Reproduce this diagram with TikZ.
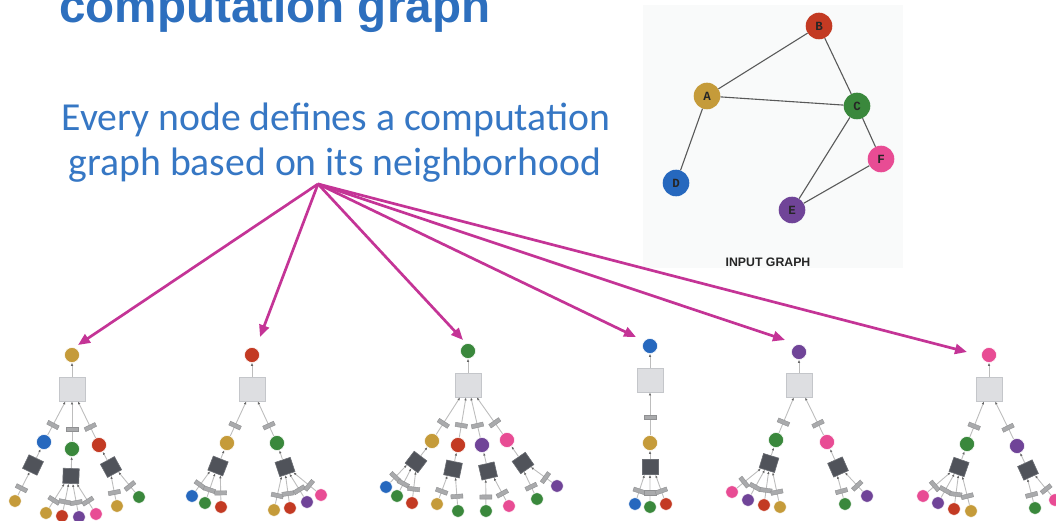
\documentclass[tikz,border=0pt]{standalone}
\usepackage{fontspec}
\setmainfont{Liberation Sans}
\newfontfamily\subfont{Carlito}
\newfontfamily\labelfont{Liberation Mono}
\usetikzlibrary{arrows.meta,calc}

% palette
\definecolor{titleblue}{HTML}{2D6FBE}
\definecolor{subblue}{HTML}{3677C4}
\definecolor{flowpink}{HTML}{C43496}
\definecolor{cA}{HTML}{C59B3A}
\definecolor{cB}{HTML}{C33A23}
\definecolor{cC}{HTML}{3A883C}
\definecolor{cD}{HTML}{2668BE}
\definecolor{cE}{HTML}{704498}
\definecolor{cF}{HTML}{E84C94}
\definecolor{panelbg}{HTML}{F9FAFA}
\definecolor{aggfill}{HTML}{DDDEE1}
\definecolor{aggedge}{HTML}{C4C6CA}
\definecolor{nnfill}{HTML}{50535A}
\definecolor{nnedge}{HTML}{6A6D73}
\definecolor{msgfill}{HTML}{A9AAAC}
\definecolor{msgedge}{HTML}{8F9092}
\definecolor{wiregray}{HTML}{BDBDBD}

\tikzset{
  gnode/.style={circle, minimum size=26.6pt, inner sep=0pt,
    font=\labelfont\bfseries\fontsize{12.5}{12.5}\selectfont, text=black!85},
  gedge/.style={draw=black!65, line width=1.1pt},
  treenode/.style={circle, minimum size=15pt, inner sep=0pt, draw=white, line width=0.5pt},
  leafnode/.style={circle, minimum size=12.5pt, inner sep=0pt, draw=white, line width=0.5pt},
  aggbox/.style={rectangle, minimum width=26pt, minimum height=24pt, inner sep=0pt,
    fill=aggfill, draw=aggedge, line width=0.8pt},
  nnbox/.style={rectangle, minimum width=16pt, minimum height=15pt, inner sep=0pt,
    fill=nnfill, draw=nnedge, line width=0.6pt},
  msgbox/.style={rectangle, sloped, minimum width=4.2pt, minimum height=12pt, inner sep=0pt,
    fill=msgfill, draw=msgedge, line width=0.4pt},
  tedge/.style={draw=wiregray, line width=0.9pt,
    -{Latex[length=3pt,width=2.4pt,color=black!60]}},
  flow/.style={draw=flowpink, line width=2.7pt, -{Triangle[length=12pt,width=10pt]}},
}

% position of the message bar on a branch's upper edge
\def\toppos{0.3}

% one neighbour branch: #1 name, #2 colour, #3/#4 centre, #5/#6 network box,
% #7 aggregation box above, #8 leaves as colour/x/y, #9 number of leaves
\newcommand\branch[9]{%
  \node[treenode, fill=#2] (#1) at (#3,#4) {};
  \pgfmathsetmacro\nnrot{atan2(#6-#4,#3-#5)-90}%
  \node[nnbox, rotate=\nnrot] (#1n) at (#5,#6) {};
  \draw[tedge] (#1n) -- (#1);
  \draw[tedge] (#1) -- node[msgbox, pos=\toppos] {} (#7);
  \foreach \lc/\lx/\ly [count=\li] in {#8} {
    \node[leafnode, fill=\lc] (#1l\li) at (\lx,\ly) {};
    \draw[tedge] (#1l\li) -- node[msgbox, pos=0.3] {}
      ($(#1n.south west)!{(\li-0.5)/#9}!(#1n.south east)$);
  }%
}

\begin{document}
\begin{tikzpicture}[x=1pt, y=-1pt]
\useasboundingbox (0,0) rectangle (1056,521);

% headings
\node[anchor=base west, inner sep=0pt, text=titleblue,
  font=\bfseries\fontsize{47.6}{50}\selectfont] (title) at (59,23) {computation graph};
\node[anchor=base, inner sep=0pt, text=subblue,
  font=\subfont\fontsize{39.7}{44}\selectfont] (sub1) at (336,131) {Every node defines a computation};
\node[anchor=base, inner sep=0pt, text=subblue,
  font=\subfont\fontsize{39.7}{44}\selectfont] (sub2) at (335,176) {graph based on its neighborhood};

% input graph panel
\fill[panelbg] (643,5) rectangle (903,268);
\node[gnode, fill=cB] (B) at (819,26) {B};
\node[gnode, fill=cA] (A) at (707,96) {A};
\node[gnode, fill=cC] (C) at (857,106) {C};
\node[gnode, fill=cF] (F) at (881,159) {F};
\node[gnode, fill=cD] (D) at (676,183) {D};
\node[gnode, fill=cE] (E) at (792,210) {E};
\draw[gedge] (A) -- (B);
\draw[gedge] (A) -- (C);
\draw[gedge] (B) -- (C);
\draw[gedge] (A) -- (D);
\draw[gedge] (C) -- (E);
\draw[gedge] (C) -- (F);
\draw[gedge] (E) -- (F);
\node[font=\bfseries\fontsize{12.3}{13}\selectfont, text=black!85, inner sep=0pt]
  (inlabel) at (768,262) {INPUT GRAPH};

% tree for A
\node[treenode, fill=cA] (T1) at (72,355) {};
\node[aggbox] (T1box) at (72,389) {};
\draw[tedge] (T1box) -- (T1);
\branch{T1a}{cD}{44}{442}{33}{465}{T1box}{cA/15/501}{1}
\branch{T1b}{cC}{72}{449}{71}{476}{T1box}{cA/46/513, cB/62/516, cE/79/517, cF/96/514}{4}
\branch{T1c}{cB}{99}{445}{111}{467}{T1box}{cA/117/506, cC/139/497}{2}

% tree for B
\node[treenode, fill=cB] (T2) at (252,355) {};
\node[aggbox] (T2box) at (252,389) {};
\draw[tedge] (T2box) -- (T2);
\branch{T2a}{cA}{227}{443}{218}{466}{T2box}{cD/192/496, cC/205/503, cB/221/507}{3}
\branch{T2b}{cC}{277}{443}{285}{467}{T2box}{cA/274/510, cB/290/508, cE/307/502, cF/321/495}{4}

% tree for C
\node[treenode, fill=cC] (T3) at (468,351) {};
\node[aggbox] (T3box) at (468,385) {};
\draw[tedge] (T3box) -- (T3);
\branch{T3a}{cA}{432}{441}{416}{462}{T3box}{cD/386/487, cC/397/496, cB/412/503}{3}
\branch{T3b}{cB}{458}{445}{453}{469}{T3box}{cA/437/504, cC/458/511}{2}
\branch{T3c}{cE}{482}{445}{488}{471}{T3box}{cC/486/511, cF/509/506}{2}
\branch{T3d}{cF}{507}{440}{523}{463}{T3box}{cC/537/499, cE/557/486}{2}

% tree for D
\node[treenode, fill=cD] (T4) at (650,346) {};
\node[aggbox] (T4box) at (650,380) {};
\draw[tedge] (T4box) -- (T4);
\def\toppos{0.42}
\branch{T4a}{cA}{650}{443}{650}{467}{T4box}{cD/635/504, cC/650/507, cB/666/504}{3}
\def\toppos{0.3}

% tree for E
\node[treenode, fill=cE] (T5) at (799,352) {};
\node[aggbox] (T5box) at (799,385) {};
\draw[tedge] (T5box) -- (T5);
\branch{T5a}{cC}{776}{440}{769}{463}{T5box}{cF/732/492, cE/748/500, cB/764/505, cA/780/507}{4}
\branch{T5b}{cF}{827}{442}{838}{467}{T5box}{cC/845/504, cE/867/496}{2}

% tree for F
\node[treenode, fill=cF] (T6) at (989,355) {};
\node[aggbox] (T6box) at (989,389) {};
\draw[tedge] (T6box) -- (T6);
\branch{T6a}{cC}{967}{444}{959}{467}{T6box}{cF/923/496, cE/938/503, cB/954/509, cA/971/511}{4}
\branch{T6b}{cE}{1017}{446}{1028}{470}{T6box}{cC/1035/508, cF/1055/500}{2}

% arrows from the text to each computation graph
\coordinate (src) at (318,184);
\coordinate (tip1) at (78,345);
\coordinate (tip2) at (260,337);
\coordinate (tip3) at (463,340);
\coordinate (tip4) at (636,337);
\coordinate (tip5) at (785,340);
\coordinate (tip6) at (967,352);
\foreach \k in {1,...,6} \draw[flow] (src) -- (tip\k);
\end{tikzpicture}
\end{document}
